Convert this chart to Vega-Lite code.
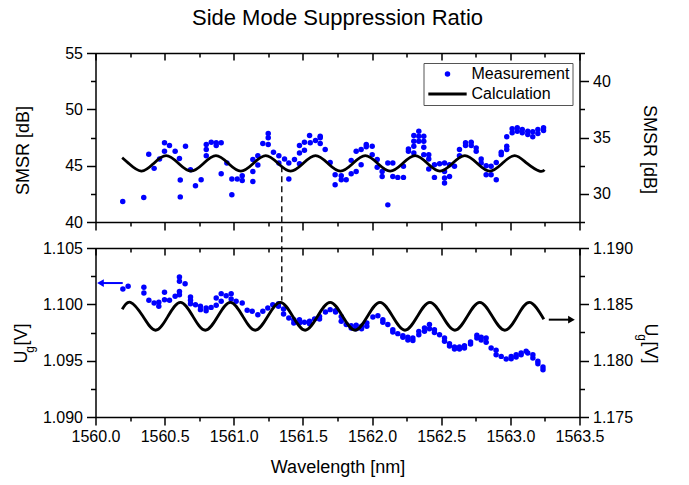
{
  "$schema": "https://vega.github.io/schema/vega-lite/v6.json",
  "background": "white",
  "padding": {"left": 11.5, "top": 7, "right": 5, "bottom": 5},
  "title": {"text": "Side Mode Suppression Ratio", "font": "Liberation Sans", "fontSize": 22, "fontWeight": "normal", "color": "#000000", "anchor": "middle", "frame": "group", "offset": 15},
  "bounds": "flush",
  "spacing": 26,
  "resolve": {"legend": {"color": "independent", "shape": "independent"}},
  "datasets": {
    "top_meas": [
      {"w":1560.197,"v":41.81},{"w":1560.349,"v":42.17},{"w":1560.385,"v":46.01},{"w":1560.424,"v":44.76},{"w":1560.463,"v":45.60},
      {"w":1560.499,"v":47.03},{"w":1560.499,"v":46.28},{"w":1560.535,"v":46.79},{"w":1560.576,"v":46.28},{"w":1560.607,"v":45.63},
      {"w":1560.613,"v":43.72},{"w":1560.613,"v":42.23},{"w":1560.651,"v":46.72},{"w":1560.687,"v":44.64},{"w":1560.723,"v":43.21},
      {"w":1560.764,"v":43.75},{"w":1560.801,"v":46.88},{"w":1560.801,"v":46.43},{"w":1560.801,"v":45.89},{"w":1560.837,"v":47.08},
      {"w":1560.873,"v":47.03},{"w":1560.873,"v":46.79},{"w":1560.909,"v":47.03},{"w":1560.909,"v":44.29},{"w":1560.950,"v":45.24},
      {"w":1560.986,"v":43.81},{"w":1560.986,"v":42.41},{"w":1561.025,"v":43.81},{"w":1561.061,"v":44.11},{"w":1561.061,"v":43.69},
      {"w":1561.138,"v":45.54},{"w":1561.138,"v":44.49},{"w":1561.138,"v":43.60},{"w":1561.174,"v":45.89},{"w":1561.174,"v":45.06},
      {"w":1561.210,"v":46.96},{"w":1561.249,"v":47.86},{"w":1561.249,"v":47.47},{"w":1561.249,"v":46.88},{"w":1561.287,"v":46.19},
      {"w":1561.326,"v":45.89},{"w":1561.326,"v":45.24},{"w":1561.367,"v":45.60},{"w":1561.398,"v":45.24},{"w":1561.398,"v":43.81},
      {"w":1561.439,"v":45.54},{"w":1561.475,"v":46.79},{"w":1561.475,"v":46.13},{"w":1561.475,"v":45.18},{"w":1561.511,"v":47.08},
      {"w":1561.511,"v":46.37},{"w":1561.548,"v":47.68},{"w":1561.553,"v":47.03},{"w":1561.591,"v":47.23},{"w":1561.625,"v":47.62},
      {"w":1561.625,"v":47.47},{"w":1561.625,"v":46.96},{"w":1561.661,"v":46.43},{"w":1561.697,"v":45.29},{"w":1561.733,"v":44.20},
      {"w":1561.733,"v":43.30},{"w":1561.777,"v":44.11},{"w":1561.777,"v":43.75},{"w":1561.813,"v":43.75},{"w":1561.849,"v":45.47},
      {"w":1561.849,"v":44.29},{"w":1561.885,"v":46.28},{"w":1561.885,"v":44.49},{"w":1561.921,"v":46.43},{"w":1561.921,"v":45.09},
      {"w":1561.958,"v":46.88},{"w":1561.958,"v":46.67},{"w":1562.001,"v":46.72},{"w":1562.001,"v":45.98},{"w":1562.037,"v":45.54},
      {"w":1562.037,"v":44.85},{"w":1562.073,"v":44.49},{"w":1562.073,"v":44.04},{"w":1562.114,"v":45.24},{"w":1562.114,"v":41.52},
      {"w":1562.150,"v":45.24},{"w":1562.150,"v":44.04},{"w":1562.186,"v":43.96},{"w":1562.227,"v":43.96},{"w":1562.227,"v":44.94},
      {"w":1562.263,"v":46.49},{"w":1562.263,"v":46.28},{"w":1562.302,"v":47.68},{"w":1562.302,"v":47.17},{"w":1562.302,"v":46.72},
      {"w":1562.302,"v":46.13},{"w":1562.338,"v":48.06},{"w":1562.338,"v":47.62},{"w":1562.338,"v":47.17},{"w":1562.374,"v":47.62},
      {"w":1562.374,"v":47.17},{"w":1562.374,"v":46.63},{"w":1562.374,"v":45.98},{"w":1562.410,"v":45.98},{"w":1562.410,"v":45.60},
      {"w":1562.410,"v":44.71},{"w":1562.451,"v":45.09},{"w":1562.451,"v":43.96},{"w":1562.488,"v":45.18},{"w":1562.524,"v":45.24},
      {"w":1562.524,"v":44.49},{"w":1562.524,"v":43.90},{"w":1562.524,"v":43.46},{"w":1562.560,"v":45.09},{"w":1562.560,"v":44.04},
      {"w":1562.596,"v":44.94},{"w":1562.632,"v":45.89},{"w":1562.632,"v":46.43},{"w":1562.676,"v":47.03},{"w":1562.676,"v":46.79},
      {"w":1562.717,"v":47.08},{"w":1562.717,"v":46.79},{"w":1562.753,"v":46.58},{"w":1562.753,"v":46.28},{"w":1562.789,"v":45.60},
      {"w":1562.789,"v":45.24},{"w":1562.825,"v":45.00},{"w":1562.825,"v":44.20},{"w":1562.861,"v":44.94},{"w":1562.861,"v":44.20},
      {"w":1562.898,"v":45.29},{"w":1562.898,"v":43.75},{"w":1562.934,"v":46.19},{"w":1562.934,"v":45.98},{"w":1562.974,"v":47.56},
      {"w":1562.974,"v":46.72},{"w":1562.974,"v":46.43},{"w":1563.013,"v":48.28},{"w":1563.013,"v":47.92},{"w":1563.050,"v":48.37},
      {"w":1563.050,"v":48.06},{"w":1563.086,"v":48.21},{"w":1563.086,"v":47.92},{"w":1563.126,"v":48.06},{"w":1563.126,"v":47.77},
      {"w":1563.162,"v":48.01},{"w":1563.162,"v":47.56},{"w":1563.199,"v":48.21},{"w":1563.199,"v":47.86},{"w":1563.240,"v":48.37},
      {"w":1563.240,"v":48.13}
    ],
    "top_calc": [
      {"w":1560.193,"v":33.21},{"w":1560.240,"v":32.70},{"w":1560.331,"v":32.02},{"w":1560.421,"v":32.70},{"w":1560.511,"v":33.39},
      {"w":1560.601,"v":32.70},{"w":1560.691,"v":32.02},{"w":1560.781,"v":32.70},{"w":1560.871,"v":33.39},{"w":1560.961,"v":32.70},
      {"w":1561.051,"v":32.02},{"w":1561.141,"v":32.70},{"w":1561.231,"v":33.39},{"w":1561.321,"v":32.70},{"w":1561.411,"v":32.02},
      {"w":1561.501,"v":32.70},{"w":1561.591,"v":33.39},{"w":1561.681,"v":32.70},{"w":1561.771,"v":32.02},{"w":1561.861,"v":32.70},
      {"w":1561.951,"v":33.39},{"w":1562.041,"v":32.70},{"w":1562.131,"v":32.02},{"w":1562.221,"v":32.70},{"w":1562.311,"v":33.39},
      {"w":1562.401,"v":32.70},{"w":1562.491,"v":32.02},{"w":1562.581,"v":32.70},{"w":1562.671,"v":33.39},{"w":1562.761,"v":32.70},
      {"w":1562.851,"v":32.02},{"w":1562.941,"v":32.70},{"w":1563.031,"v":33.39},{"w":1563.121,"v":32.70},{"w":1563.211,"v":32.02},
      {"w":1563.247,"v":32.13}
    ],
    "bot_meas": [
      {"w":1560.198,"v":1.10136},{"w":1560.236,"v":1.10160},{"w":1560.350,"v":1.10151},{"w":1560.350,"v":1.10101},{"w":1560.386,"v":1.10036},
      {"w":1560.424,"v":1.10012},{"w":1560.458,"v":1.10018},{"w":1560.458,"v":1.09982},{"w":1560.499,"v":1.10107},{"w":1560.499,"v":1.10041},
      {"w":1560.535,"v":1.10036},{"w":1560.576,"v":1.10071},{"w":1560.607,"v":1.10243},{"w":1560.607,"v":1.10204},{"w":1560.607,"v":1.10115},
      {"w":1560.607,"v":1.10086},{"w":1560.648,"v":1.10183},{"w":1560.687,"v":1.10065},{"w":1560.687,"v":1.10036},{"w":1560.687,"v":1.10006},
      {"w":1560.723,"v":1.09997},{"w":1560.759,"v":1.09982},{"w":1560.759,"v":1.09953},{"w":1560.800,"v":1.09967},{"w":1560.800,"v":1.09944},
      {"w":1560.836,"v":1.09973},{"w":1560.873,"v":1.10056},{"w":1560.873,"v":1.09991},{"w":1560.909,"v":1.10095},{"w":1560.909,"v":1.10027},
      {"w":1560.945,"v":1.10077},{"w":1560.981,"v":1.10095},{"w":1560.981,"v":1.10047},{"w":1561.017,"v":1.10027},{"w":1561.061,"v":1.10012},
      {"w":1561.097,"v":1.09947},{"w":1561.133,"v":1.09938},{"w":1561.174,"v":1.09908},{"w":1561.210,"v":1.09938},{"w":1561.246,"v":1.09967},
      {"w":1561.282,"v":1.09997},{"w":1561.323,"v":1.10006},{"w":1561.323,"v":1.09982},{"w":1561.360,"v":1.09959},{"w":1561.360,"v":1.09914},
      {"w":1561.398,"v":1.09879},{"w":1561.434,"v":1.09864},{"w":1561.434,"v":1.09834},{"w":1561.475,"v":1.09864},{"w":1561.475,"v":1.09834},
      {"w":1561.511,"v":1.09840},{"w":1561.548,"v":1.09849},{"w":1561.548,"v":1.09828},{"w":1561.584,"v":1.09870},{"w":1561.620,"v":1.09893},
      {"w":1561.620,"v":1.09870},{"w":1561.663,"v":1.09932},{"w":1561.697,"v":1.09953},{"w":1561.736,"v":1.09944},{"w":1561.736,"v":1.09932},
      {"w":1561.777,"v":1.09893},{"w":1561.777,"v":1.09849},{"w":1561.813,"v":1.09820},{"w":1561.849,"v":1.09811},{"w":1561.849,"v":1.09790},
      {"w":1561.885,"v":1.09814},{"w":1561.885,"v":1.09784},{"w":1561.924,"v":1.09805},{"w":1561.924,"v":1.09784},{"w":1561.962,"v":1.09834},
      {"w":1561.962,"v":1.09805},{"w":1562.006,"v":1.09888},{"w":1562.042,"v":1.09899},{"w":1562.078,"v":1.09864},{"w":1562.078,"v":1.09840},
      {"w":1562.114,"v":1.09820},{"w":1562.150,"v":1.09775},{"w":1562.150,"v":1.09754},{"w":1562.186,"v":1.09740},{"w":1562.223,"v":1.09722},
      {"w":1562.223,"v":1.09707},{"w":1562.259,"v":1.09707},{"w":1562.259,"v":1.09683},{"w":1562.295,"v":1.09701},{"w":1562.295,"v":1.09678},
      {"w":1562.338,"v":1.09760},{"w":1562.338,"v":1.09731},{"w":1562.379,"v":1.09790},{"w":1562.379,"v":1.09760},{"w":1562.415,"v":1.09820},
      {"w":1562.415,"v":1.09784},{"w":1562.451,"v":1.09775},{"w":1562.451,"v":1.09751},{"w":1562.488,"v":1.09731},{"w":1562.524,"v":1.09701},
      {"w":1562.524,"v":1.09672},{"w":1562.560,"v":1.09651},{"w":1562.560,"v":1.09630},{"w":1562.596,"v":1.09621},{"w":1562.596,"v":1.09604},
      {"w":1562.632,"v":1.09621},{"w":1562.632,"v":1.09604},{"w":1562.668,"v":1.09633},{"w":1562.668,"v":1.09612},{"w":1562.712,"v":1.09666},
      {"w":1562.712,"v":1.09648},{"w":1562.758,"v":1.09725},{"w":1562.758,"v":1.09701},{"w":1562.789,"v":1.09707},{"w":1562.789,"v":1.09683},
      {"w":1562.825,"v":1.09701},{"w":1562.825,"v":1.09663},{"w":1562.861,"v":1.09612},{"w":1562.897,"v":1.09592},{"w":1562.897,"v":1.09553},
      {"w":1562.934,"v":1.09538},{"w":1562.970,"v":1.09515},{"w":1563.006,"v":1.09538},{"w":1563.006,"v":1.09518},{"w":1563.042,"v":1.09553},
      {"w":1563.042,"v":1.09533},{"w":1563.078,"v":1.09568},{"w":1563.078,"v":1.09553},{"w":1563.114,"v":1.09583},{"w":1563.126,"v":1.09568},
      {"w":1563.163,"v":1.09553},{"w":1563.163,"v":1.09524},{"w":1563.199,"v":1.09494},{"w":1563.199,"v":1.09473},{"w":1563.236,"v":1.09444},
      {"w":1563.236,"v":1.09420}
    ],
    "bot_calc": [
      {"w":1560.193,"v":1.18456},{"w":1560.253,"v":1.18518},{"w":1560.343,"v":1.18394},{"w":1560.434,"v":1.18270},{"w":1560.524,"v":1.18394},
      {"w":1560.614,"v":1.18518},{"w":1560.704,"v":1.18394},{"w":1560.794,"v":1.18270},{"w":1560.885,"v":1.18394},{"w":1560.975,"v":1.18518},
      {"w":1561.065,"v":1.18394},{"w":1561.155,"v":1.18270},{"w":1561.246,"v":1.18394},{"w":1561.336,"v":1.18518},{"w":1561.426,"v":1.18394},
      {"w":1561.516,"v":1.18270},{"w":1561.606,"v":1.18394},{"w":1561.697,"v":1.18518},{"w":1561.787,"v":1.18394},{"w":1561.877,"v":1.18270},
      {"w":1561.967,"v":1.18394},{"w":1562.057,"v":1.18518},{"w":1562.148,"v":1.18394},{"w":1562.238,"v":1.18270},{"w":1562.328,"v":1.18394},
      {"w":1562.418,"v":1.18518},{"w":1562.509,"v":1.18394},{"w":1562.599,"v":1.18270},{"w":1562.689,"v":1.18394},{"w":1562.779,"v":1.18518},
      {"w":1562.869,"v":1.18394},{"w":1562.960,"v":1.18270},{"w":1563.050,"v":1.18394},{"w":1563.140,"v":1.18518},{"w":1563.242,"v":1.18368}
    ]
  },
  "vconcat": [
    {
      "width": 484,
      "height": 169,
      "layer": [
        {
          "data": {"values": [{"x": 1561.347, "y": 44.94, "y2": 33.04}]},
          "mark": {"type": "rule", "strokeDash": [6, 4], "strokeWidth": 1.5, "color": "#1a1a1a"},
          "encoding": {
            "x": {"field": "x", "type": "quantitative", "scale": {"domain": [1560, 1563.5], "nice": false, "zero": false}, "axis": null},
            "y": {"field": "y", "type": "quantitative", "scale": {"domain": [40, 55], "nice": false, "zero": false}, "axis": null},
            "y2": {"field": "y2"}
          }
        },
        {
          "data": {"name": "top_meas"},
          "mark": {"type": "point", "filled": true, "size": 30, "opacity": 1},
          "encoding": {
            "x": {"field": "w", "type": "quantitative", "scale": {"domain": [1560, 1563.5], "nice": false, "zero": false},
              "axis": {"orient": "bottom", "values": [1560,1560.25,1560.5,1560.75,1561,1561.25,1561.5,1561.75,1562,1562.25,1562.5,1562.75,1563,1563.25,1563.5], "labels": false, "title": null,
                "tickSize": {"condition": {"test": "datum.value % 0.5 === 0", "value": 8}, "value": 4}}},
            "y": {"field": "v", "type": "quantitative", "scale": {"domain": [40, 55], "nice": false, "zero": false},
              "axis": {"orient": "left", "values": [40,42.5,45,47.5,50,52.5,55], "labelExpr": "datum.value % 5 === 0 ? datum.label : ''",
                "title": "SMSR [dB]", "titleX": -71.7, "titleY": 97, "titleAngle": -90, "titleAlign": "center", "titleBaseline": "middle", "labelPadding": 4,
                "tickSize": {"condition": {"test": "datum.value % 5 === 0", "value": 9}, "value": 5}}},
            "color": {"datum": "Measurement", "type": "nominal", "scale": {"domain": ["Measurement", "Calculation"], "range": ["#0000ff", "#000000"]},
              "legend": {"title": null, "orient": "none", "legendX": 328, "legendY": 10, "padding": 3, "rowPadding": 4, "symbolSize": 30, "symbolOffset": 13, "labelOffset": 16,
                "symbolOpacity": 1, "labelFontSize": 16, "labelFont": "Liberation Sans", "labelColor": "#000000", "strokeColor": "#555555", "fillColor": "#ffffff"}},
            "shape": {"datum": "Measurement", "type": "nominal", "scale": {"domain": ["Measurement", "Calculation"], "range": ["circle", "M-7,-0.55H7V0.55H-7Z"]}}
          }
        },
        {
          "data": {"name": "top_calc"},
          "mark": {"type": "line", "strokeWidth": 2.8, "interpolate": "natural", "color": "#000000"},
          "encoding": {
            "x": {"field": "w", "type": "quantitative", "scale": {"domain": [1560, 1563.5], "nice": false, "zero": false},
              "axis": {"orient": "top", "values": [1560,1560.25,1560.5,1560.75,1561,1561.25,1561.5,1561.75,1562,1562.25,1562.5,1562.75,1563,1563.25,1563.5], "labels": false, "title": null,
                "tickSize": {"condition": {"test": "datum.value % 0.5 === 0", "value": -7}, "value": -4}}},
            "y": {"field": "v", "type": "quantitative", "scale": {"domain": [27.5, 42.5], "nice": false, "zero": false},
              "axis": {"orient": "right", "values": [27.5,30,32.5,35,37.5,40,42.5], "labelExpr": "datum.value % 5 === 0 ? datum.label : ''",
                "title": "SMSR [dB]", "titleX": 68.7, "titleY": 96, "titleAngle": 90, "titleAlign": "center", "titleBaseline": "middle", "labelPadding": 4,
                "tickSize": {"condition": {"test": "datum.value % 5 === 0", "value": 9}, "value": 5}}}
          }
        }
      ],
      "resolve": {"scale": {"y": "independent"}, "axis": {"x": "independent", "y": "independent"}}
    },
    {
      "width": 484,
      "height": 169,
      "layer": [
        {
          "data": {"name": "bot_meas"},
          "mark": {"type": "circle", "size": 30, "opacity": 1, "color": "#0000ff"},
          "encoding": {
            "x": {"field": "w", "type": "quantitative", "scale": {"domain": [1560, 1563.5], "nice": false, "zero": false},
              "axis": {"orient": "bottom", "values": [1560,1560.25,1560.5,1560.75,1561,1561.25,1561.5,1561.75,1562,1562.25,1562.5,1562.75,1563,1563.25,1563.5], "format": ".1f",
                "labelExpr": "datum.value % 0.5 === 0 ? datum.label : ''", "labelPadding": 3,
                "title": "Wavelength [nm]", "titleBaseline": "middle", "titleY": 50,
                "tickSize": {"condition": {"test": "datum.value % 0.5 === 0", "value": 8}, "value": 4}}},
            "y": {"field": "v", "type": "quantitative", "scale": {"domain": [1.09, 1.105], "nice": false, "zero": false},
              "axis": {"orient": "left", "values": [1.09,1.0925,1.095,1.0975,1.1,1.1025,1.105], "format": ".3f",
                "labelExpr": "round(datum.value*10000) % 50 === 0 ? datum.label : ''",
                "title": "U  [V]", "titleX": -74.5, "titleY": 95, "titleAngle": -90, "titleAlign": "center", "titleBaseline": "middle", "labelPadding": 4,
                "tickSize": {"condition": {"test": "round(datum.value*10000) % 50 === 0", "value": 9}, "value": 5}}}
          }
        },
        {
          "data": {"name": "bot_calc"},
          "mark": {"type": "line", "strokeWidth": 2.8, "interpolate": "natural", "color": "#000000"},
          "encoding": {
            "x": {"field": "w", "type": "quantitative", "scale": {"domain": [1560, 1563.5], "nice": false, "zero": false},
              "axis": {"orient": "top", "values": [1560,1560.25,1560.5,1560.75,1561,1561.25,1561.5,1561.75,1562,1562.25,1562.5,1562.75,1563,1563.25,1563.5], "labels": false, "title": null,
                "tickSize": {"condition": {"test": "datum.value % 0.5 === 0", "value": -7}, "value": -4}}},
            "y": {"field": "v", "type": "quantitative", "scale": {"domain": [1.175, 1.19], "nice": false, "zero": false},
              "axis": {"orient": "right", "values": [1.175,1.1775,1.18,1.1825,1.185,1.1875,1.19], "format": ".3f",
                "labelExpr": "round(datum.value*10000) % 50 === 0 ? datum.label : ''",
                "title": "U  [V]", "titleX": 70, "titleY": 95, "titleAngle": 90, "titleAlign": "center", "titleBaseline": "middle", "labelPadding": 4,
                "tickSize": {"condition": {"test": "round(datum.value*10000) % 50 === 0", "value": 9}, "value": 5}}}
          }
        },
        {
          "data": {"values": [{"x": 1560.197, "x2": 1560.04, "y": 1.10189}]},
          "mark": {"type": "rule", "color": "#0000ff", "strokeWidth": 2},
          "encoding": {
            "x": {"field": "x", "type": "quantitative", "scale": {"domain": [1560, 1563.5], "nice": false, "zero": false}, "axis": null},
            "x2": {"field": "x2"},
            "y": {"field": "y", "type": "quantitative", "scale": {"domain": [1.09, 1.105], "nice": false, "zero": false},
              "axis": {"orient": "left", "domain": false, "ticks": false, "labels": false, "title": "g", "titleFontSize": 12,
                "titleX": -66, "titleY": 101, "titleAngle": -90, "titleAlign": "center", "titleBaseline": "middle"}}
          }
        },
        {
          "data": {"values": [{"x": 1560.036, "y": 1.10189}]},
          "mark": {"type": "point", "shape": "triangle-left", "filled": true, "color": "#0000ff", "size": 60, "opacity": 1},
          "encoding": {
            "x": {"field": "x", "type": "quantitative", "scale": {"domain": [1560, 1563.5], "nice": false, "zero": false}, "axis": null},
            "y": {"field": "y", "type": "quantitative", "scale": {"domain": [1.09, 1.105], "nice": false, "zero": false}, "axis": null}
          }
        },
        {
          "data": {"values": [{"x": 1563.278, "x2": 1563.43, "y": 1.18364}]},
          "mark": {"type": "rule", "color": "#000000", "strokeWidth": 2},
          "encoding": {
            "x": {"field": "x", "type": "quantitative", "scale": {"domain": [1560, 1563.5], "nice": false, "zero": false}, "axis": null},
            "x2": {"field": "x2"},
            "y": {"field": "y", "type": "quantitative", "scale": {"domain": [1.175, 1.19], "nice": false, "zero": false},
              "axis": {"orient": "right", "domain": false, "ticks": false, "labels": false, "title": "g", "titleFontSize": 12,
                "titleX": 62, "titleY": 89, "titleAngle": 90, "titleAlign": "center", "titleBaseline": "middle"}}
          }
        },
        {
          "data": {"values": [{"x": 1563.442, "y": 1.18364}]},
          "mark": {"type": "point", "shape": "triangle-right", "filled": true, "color": "#000000", "size": 60, "opacity": 1},
          "encoding": {
            "x": {"field": "x", "type": "quantitative", "scale": {"domain": [1560, 1563.5], "nice": false, "zero": false}, "axis": null},
            "y": {"field": "y", "type": "quantitative", "scale": {"domain": [1.175, 1.19], "nice": false, "zero": false}, "axis": null}
          }
        }
      ],
      "resolve": {"scale": {"y": "independent"}, "axis": {"x": "independent", "y": "independent"}}
    }
  ],
  "config": {
    "font": "Liberation Sans",
    "view": {"stroke": null},
    "axis": {
      "grid": false,
      "domainColor": "#000000",
      "domainWidth": 1.5,
      "tickColor": "#000000",
      "tickWidth": 1.5,
      "labelColor": "#000000",
      "labelFont": "Liberation Sans",
      "labelFontSize": 16,
      "labelOverlap": false,
      "labelFlush": false,
      "titleFont": "Liberation Sans",
      "titleFontSize": 18,
      "titleFontWeight": "normal",
      "titleColor": "#000000"
    }
  }
}
